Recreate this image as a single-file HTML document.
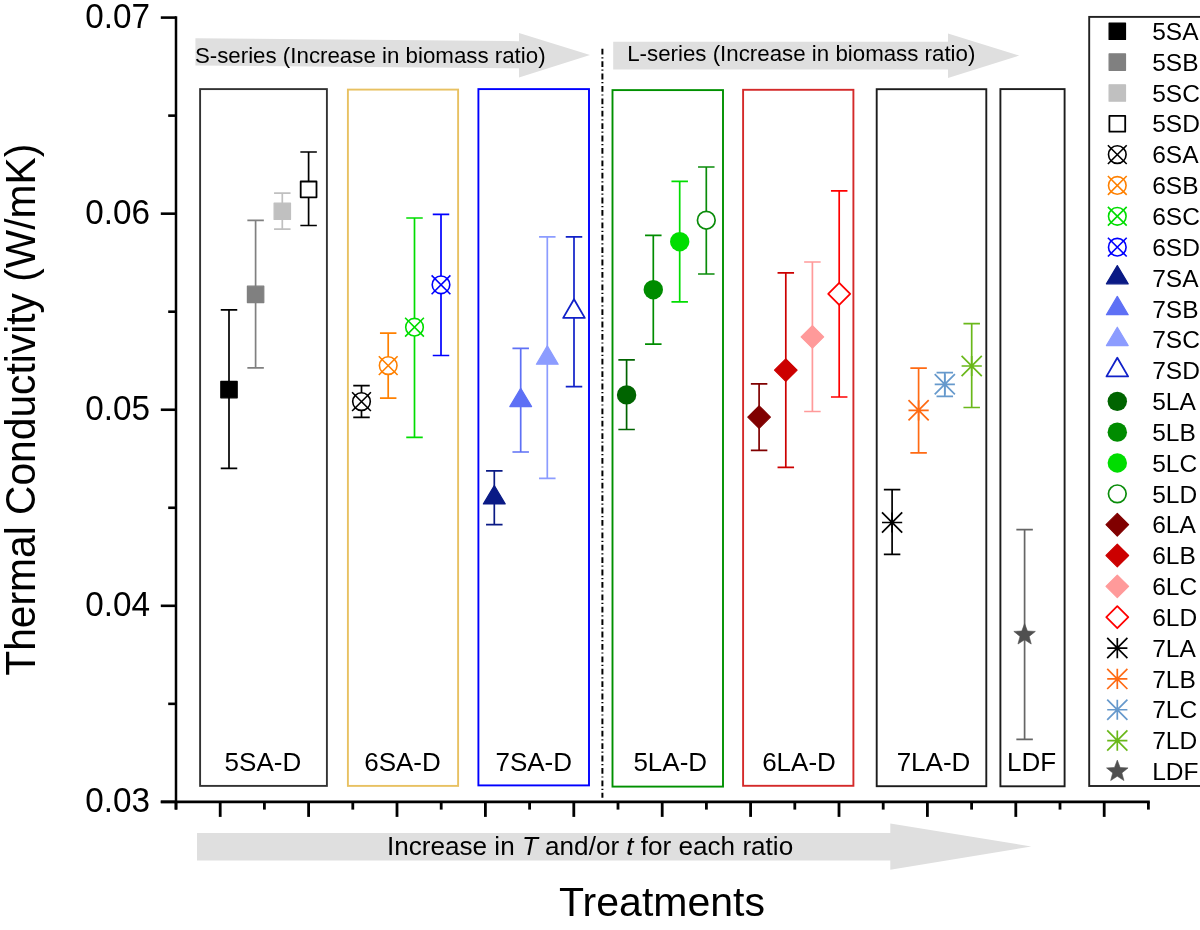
<!DOCTYPE html>
<html><head><meta charset="utf-8"><style>
html,body{margin:0;padding:0;background:#fff;width:1200px;height:930px;overflow:hidden}
svg{display:block;will-change:transform}
text{font-family:"Liberation Sans",sans-serif}
</style></head><body>
<svg width="1200" height="930" viewBox="0 0 1200 930">
<rect width="1200" height="930" fill="#fff"/>
<polygon points="195.4,38.3 519,41.2 519,33 590,55.1 519,77.5 519,68.3 195.4,65.6" fill="#dfdfdf"/>
<polygon points="613.2,41.8 948,41.8 948,33.4 1019.2,55.6 948,78 948,69.4 613.2,69.4" fill="#dfdfdf"/>
<polygon points="197,833 890.3,833 890.3,823.5 1031.3,846.5 890.3,869.7 890.3,860.6 197,860.6" fill="#dfdfdf"/>
<text transform="translate(194.90,63.00) scale(1,1.0)" font-size="22.3" text-anchor="start" font-family="Liberation Sans, sans-serif" fill="#000" >S-series (Increase in biomass ratio)</text>
<text transform="translate(627.20,61.00) scale(1,1.0)" font-size="22.3" text-anchor="start" font-family="Liberation Sans, sans-serif" fill="#000" >L-series (Increase in biomass ratio)</text>
<text transform="translate(387.00,855.00) scale(1,1.0)" font-size="26.1" text-anchor="start" font-family="Liberation Sans, sans-serif" fill="#000" >Increase in <tspan font-style="italic">T</tspan> and/or <tspan font-style="italic">t</tspan> for each ratio</text>
<rect x="200.1" y="89.1" width="126.80" height="696.80" fill="none" stroke="#333333" stroke-width="1.9"/>
<text transform="translate(262.90,770.90) scale(1,1.0)" font-size="26" text-anchor="middle" font-family="Liberation Sans, sans-serif" fill="#000" >5SA-D</text>
<rect x="347.9" y="89.6" width="110.20" height="696.30" fill="none" stroke="#e8c162" stroke-width="1.9"/>
<text transform="translate(402.50,770.90) scale(1,1.0)" font-size="26" text-anchor="middle" font-family="Liberation Sans, sans-serif" fill="#000" >6SA-D</text>
<rect x="478.4" y="89.1" width="110.60" height="696.30" fill="none" stroke="#0000ff" stroke-width="1.9"/>
<text transform="translate(533.75,770.90) scale(1,1.0)" font-size="26" text-anchor="middle" font-family="Liberation Sans, sans-serif" fill="#000" >7SA-D</text>
<rect x="612.5" y="90.1" width="110.50" height="696.50" fill="none" stroke="#009000" stroke-width="1.9"/>
<text transform="translate(670.25,770.90) scale(1,1.0)" font-size="26" text-anchor="middle" font-family="Liberation Sans, sans-serif" fill="#000" >5LA-D</text>
<rect x="743.1" y="89.8" width="110.30" height="696.00" fill="none" stroke="#d42a2a" stroke-width="1.9"/>
<text transform="translate(799.00,770.90) scale(1,1.0)" font-size="26" text-anchor="middle" font-family="Liberation Sans, sans-serif" fill="#000" >6LA-D</text>
<rect x="876.7" y="89.2" width="109.60" height="697.00" fill="none" stroke="#1c1c1c" stroke-width="1.9"/>
<text transform="translate(933.50,770.90) scale(1,1.0)" font-size="26" text-anchor="middle" font-family="Liberation Sans, sans-serif" fill="#000" >7LA-D</text>
<rect x="1000.4" y="89.1" width="64.20" height="697.20" fill="none" stroke="#1c1c1c" stroke-width="1.9"/>
<text transform="translate(1031.60,770.90) scale(1,1.0)" font-size="26" text-anchor="middle" font-family="Liberation Sans, sans-serif" fill="#000" >LDF</text>
<line x1="602.4" y1="48.8" x2="602.4" y2="797.7" stroke="#000" stroke-width="2" stroke-dasharray="5.8 2.6 1.2 2.8"/>
<line x1="176" y1="16.3" x2="176" y2="809.6" stroke="#000" stroke-width="2.5"/>
<line x1="160.8" y1="801.9" x2="1149.8" y2="801.9" stroke="#000" stroke-width="2.6"/>
<line x1="160.8" y1="17.60" x2="176" y2="17.60" stroke="#000" stroke-width="2.6"/>
<line x1="168.2" y1="115.63" x2="176" y2="115.63" stroke="#000" stroke-width="2.6"/>
<line x1="160.8" y1="213.67" x2="176" y2="213.67" stroke="#000" stroke-width="2.6"/>
<line x1="168.2" y1="311.70" x2="176" y2="311.70" stroke="#000" stroke-width="2.6"/>
<line x1="160.8" y1="409.74" x2="176" y2="409.74" stroke="#000" stroke-width="2.6"/>
<line x1="168.2" y1="507.77" x2="176" y2="507.77" stroke="#000" stroke-width="2.6"/>
<line x1="160.8" y1="605.81" x2="176" y2="605.81" stroke="#000" stroke-width="2.6"/>
<line x1="168.2" y1="703.84" x2="176" y2="703.84" stroke="#000" stroke-width="2.6"/>
<line x1="160.8" y1="801.88" x2="176" y2="801.88" stroke="#000" stroke-width="2.6"/>
<text transform="translate(150.00,28.30) scale(1,1.04)" font-size="33.3" text-anchor="end" font-family="Liberation Sans, sans-serif" fill="#000" >0.07</text>
<text transform="translate(150.00,223.97) scale(1,1.04)" font-size="33.3" text-anchor="end" font-family="Liberation Sans, sans-serif" fill="#000" >0.06</text>
<text transform="translate(150.00,419.84) scale(1,1.04)" font-size="33.3" text-anchor="end" font-family="Liberation Sans, sans-serif" fill="#000" >0.05</text>
<text transform="translate(150.00,615.71) scale(1,1.04)" font-size="33.3" text-anchor="end" font-family="Liberation Sans, sans-serif" fill="#000" >0.04</text>
<text transform="translate(150.00,811.58) scale(1,1.04)" font-size="33.3" text-anchor="end" font-family="Liberation Sans, sans-serif" fill="#000" >0.03</text>
<line x1="176.00" y1="801.9" x2="176.00" y2="809.6" stroke="#000" stroke-width="2.8"/>
<line x1="220.20" y1="801.9" x2="220.20" y2="816.9" stroke="#000" stroke-width="2.8"/>
<line x1="264.40" y1="801.9" x2="264.40" y2="809.6" stroke="#000" stroke-width="2.8"/>
<line x1="308.60" y1="801.9" x2="308.60" y2="816.9" stroke="#000" stroke-width="2.8"/>
<line x1="352.80" y1="801.9" x2="352.80" y2="809.6" stroke="#000" stroke-width="2.8"/>
<line x1="397.00" y1="801.9" x2="397.00" y2="816.9" stroke="#000" stroke-width="2.8"/>
<line x1="441.20" y1="801.9" x2="441.20" y2="809.6" stroke="#000" stroke-width="2.8"/>
<line x1="485.40" y1="801.9" x2="485.40" y2="816.9" stroke="#000" stroke-width="2.8"/>
<line x1="529.60" y1="801.9" x2="529.60" y2="809.6" stroke="#000" stroke-width="2.8"/>
<line x1="573.80" y1="801.9" x2="573.80" y2="816.9" stroke="#000" stroke-width="2.8"/>
<line x1="618.00" y1="801.9" x2="618.00" y2="809.6" stroke="#000" stroke-width="2.8"/>
<line x1="662.20" y1="801.9" x2="662.20" y2="816.9" stroke="#000" stroke-width="2.8"/>
<line x1="706.40" y1="801.9" x2="706.40" y2="809.6" stroke="#000" stroke-width="2.8"/>
<line x1="750.60" y1="801.9" x2="750.60" y2="816.9" stroke="#000" stroke-width="2.8"/>
<line x1="794.80" y1="801.9" x2="794.80" y2="809.6" stroke="#000" stroke-width="2.8"/>
<line x1="839.00" y1="801.9" x2="839.00" y2="816.9" stroke="#000" stroke-width="2.8"/>
<line x1="883.20" y1="801.9" x2="883.20" y2="809.6" stroke="#000" stroke-width="2.8"/>
<line x1="927.40" y1="801.9" x2="927.40" y2="816.9" stroke="#000" stroke-width="2.8"/>
<line x1="971.60" y1="801.9" x2="971.60" y2="809.6" stroke="#000" stroke-width="2.8"/>
<line x1="1015.80" y1="801.9" x2="1015.80" y2="816.9" stroke="#000" stroke-width="2.8"/>
<line x1="1060.00" y1="801.9" x2="1060.00" y2="809.6" stroke="#000" stroke-width="2.8"/>
<line x1="1104.20" y1="801.9" x2="1104.20" y2="816.9" stroke="#000" stroke-width="2.8"/>
<line x1="1148.40" y1="801.9" x2="1148.40" y2="809.6" stroke="#000" stroke-width="2.8"/>
<text transform="translate(559.10,916.00) scale(1,1.0)" font-size="41" text-anchor="start" font-family="Liberation Sans, sans-serif" fill="#000" >Treatments</text>
<text transform="translate(35,675.7) rotate(-90) scale(1,1.025)" font-size="40.75" font-family="Liberation Sans, sans-serif" fill="#000">Thermal Conductivity (W/mK)</text>
<path d="M229.00,309.80V468.40M220.75,309.80H237.25M220.75,468.40H237.25" stroke="#000000" stroke-width="1.7" fill="none"/>
<rect x="220.80" y="381.40" width="16.40" height="16.40" fill="#000000" stroke="#000000" stroke-width="1.2" stroke-linejoin="round"/>
<path d="M255.60,220.30V367.90M247.35,220.30H263.85M247.35,367.90H263.85" stroke="#808080" stroke-width="1.7" fill="none"/>
<rect x="247.40" y="286.20" width="16.40" height="16.40" fill="#808080" stroke="#808080" stroke-width="1.2" stroke-linejoin="round"/>
<path d="M282.30,193.20V229.20M274.05,193.20H290.55M274.05,229.20H290.55" stroke="#c0c0c0" stroke-width="1.7" fill="none"/>
<rect x="274.10" y="203.10" width="16.40" height="16.40" fill="#c0c0c0" stroke="#c0c0c0" stroke-width="1.2" stroke-linejoin="round"/>
<path d="M308.60,152.00V225.50M300.35,152.00H316.85M300.35,225.50H316.85" stroke="#000000" stroke-width="1.7" fill="none"/>
<rect x="300.70" y="181.50" width="15.80" height="15.80" fill="#fff" stroke="#000000" stroke-width="1.8" stroke-linejoin="round"/>
<path d="M361.50,385.70V417.40M353.25,385.70H369.75M353.25,417.40H369.75" stroke="#000000" stroke-width="1.7" fill="none"/>
<circle cx="361.50" cy="401.60" r="8.8" fill="#fff" stroke="#000000" stroke-width="1.6"/><path d="M352.10,392.20L370.90,411.00M352.10,411.00L370.90,392.20" stroke="#000000" stroke-width="1.6"/>
<path d="M388.20,333.20V398.20M379.95,333.20H396.45M379.95,398.20H396.45" stroke="#ff8000" stroke-width="1.7" fill="none"/>
<circle cx="388.20" cy="365.60" r="8.8" fill="#fff" stroke="#ff8000" stroke-width="1.6"/><path d="M378.80,356.20L397.60,375.00M378.80,375.00L397.60,356.20" stroke="#ff8000" stroke-width="1.6"/>
<path d="M414.50,218.00V437.30M406.25,218.00H422.75M406.25,437.30H422.75" stroke="#00dd00" stroke-width="1.7" fill="none"/>
<circle cx="414.50" cy="327.20" r="8.8" fill="#fff" stroke="#00dd00" stroke-width="1.6"/><path d="M405.10,317.80L423.90,336.60M405.10,336.60L423.90,317.80" stroke="#00dd00" stroke-width="1.6"/>
<path d="M441.00,214.30V355.50M432.75,214.30H449.25M432.75,355.50H449.25" stroke="#0000ff" stroke-width="1.7" fill="none"/>
<circle cx="441.00" cy="284.80" r="8.8" fill="#fff" stroke="#0000ff" stroke-width="1.6"/><path d="M431.60,275.40L450.40,294.20M431.60,294.20L450.40,275.40" stroke="#0000ff" stroke-width="1.6"/>
<path d="M494.30,470.80V524.60M486.05,470.80H502.55M486.05,524.60H502.55" stroke="#0a1a85" stroke-width="1.7" fill="none"/>
<polygon points="494.30,485.60 505.20,503.90 483.40,503.90" fill="#0a1a85" stroke="#0a1a85" stroke-width="1.2" stroke-linejoin="round"/>
<path d="M520.70,348.30V452.00M512.45,348.30H528.95M512.45,452.00H528.95" stroke="#5e70f5" stroke-width="1.7" fill="none"/>
<polygon points="520.70,388.30 531.60,406.60 509.80,406.60" fill="#5e70f5" stroke="#5e70f5" stroke-width="1.2" stroke-linejoin="round"/>
<path d="M547.30,236.80V478.30M539.05,236.80H555.55M539.05,478.30H555.55" stroke="#8c9cff" stroke-width="1.7" fill="none"/>
<polygon points="547.30,345.90 558.20,364.20 536.40,364.20" fill="#8c9cff" stroke="#8c9cff" stroke-width="1.2" stroke-linejoin="round"/>
<path d="M574.00,236.80V386.60M565.75,236.80H582.25M565.75,386.60H582.25" stroke="#1020c8" stroke-width="1.7" fill="none"/>
<polygon points="574.00,299.30 584.80,317.90 563.20,317.90" fill="#fff" stroke="#1020c8" stroke-width="1.8" stroke-linejoin="round"/>
<path d="M626.60,359.90V429.50M618.35,359.90H634.85M618.35,429.50H634.85" stroke="#006400" stroke-width="1.7" fill="none"/>
<circle cx="626.60" cy="394.90" r="9.7" fill="#006400"/>
<path d="M653.30,235.40V344.10M645.05,235.40H661.55M645.05,344.10H661.55" stroke="#008c00" stroke-width="1.7" fill="none"/>
<circle cx="653.30" cy="289.70" r="9.7" fill="#008c00"/>
<path d="M679.70,181.40V301.80M671.45,181.40H687.95M671.45,301.80H687.95" stroke="#00dd00" stroke-width="1.7" fill="none"/>
<circle cx="679.70" cy="241.70" r="9.7" fill="#00dd00"/>
<path d="M706.30,167.00V274.00M698.05,167.00H714.55M698.05,274.00H714.55" stroke="#0a8c0a" stroke-width="1.7" fill="none"/>
<circle cx="706.30" cy="220.20" r="8.85" fill="#fff" stroke="#0a8c0a" stroke-width="1.7"/>
<path d="M759.10,383.80V450.30M750.85,383.80H767.35M750.85,450.30H767.35" stroke="#800000" stroke-width="1.7" fill="none"/>
<polygon points="759.10,405.80 770.40,417.10 759.10,428.40 747.80,417.10" fill="#800000" stroke="#800000" stroke-width="1.2" stroke-linejoin="round"/>
<path d="M785.80,272.90V467.40M777.55,272.90H794.05M777.55,467.40H794.05" stroke="#cc0000" stroke-width="1.7" fill="none"/>
<polygon points="785.80,358.80 797.10,370.10 785.80,381.40 774.50,370.10" fill="#cc0000" stroke="#cc0000" stroke-width="1.2" stroke-linejoin="round"/>
<path d="M812.40,262.00V411.50M804.15,262.00H820.65M804.15,411.50H820.65" stroke="#ff9a9a" stroke-width="1.7" fill="none"/>
<polygon points="812.40,325.60 823.70,336.90 812.40,348.20 801.10,336.90" fill="#ff9a9a" stroke="#ff9a9a" stroke-width="1.2" stroke-linejoin="round"/>
<path d="M839.20,190.90V397.00M830.95,190.90H847.45M830.95,397.00H847.45" stroke="#ff0000" stroke-width="1.7" fill="none"/>
<polygon points="839.20,282.90 850.20,293.90 839.20,304.90 828.20,293.90" fill="#fff" stroke="#ff0000" stroke-width="1.8" stroke-linejoin="round"/>
<path d="M892.10,489.70V554.40M883.85,489.70H900.35M883.85,554.40H900.35" stroke="#000000" stroke-width="1.7" fill="none"/>
<path d="M882.00,522.50H902.20M892.10,512.40V532.60M882.00,512.40L902.20,532.60M882.00,532.60L902.20,512.40" stroke="#000000" stroke-width="1.7" fill="none"/>
<path d="M918.60,368.10V452.80M910.35,368.10H926.85M910.35,452.80H926.85" stroke="#ff6a13" stroke-width="1.7" fill="none"/>
<path d="M908.50,410.30H928.70M918.60,400.20V420.40M908.50,400.20L928.70,420.40M908.50,420.40L928.70,400.20" stroke="#ff6a13" stroke-width="1.7" fill="none"/>
<path d="M944.80,372.70V396.30M936.55,372.70H953.05M936.55,396.30H953.05" stroke="#6699cc" stroke-width="1.7" fill="none"/>
<path d="M934.70,384.30H954.90M944.80,374.20V394.40M934.70,374.20L954.90,394.40M934.70,394.40L954.90,374.20" stroke="#6699cc" stroke-width="1.7" fill="none"/>
<path d="M971.70,323.60V407.50M963.45,323.60H979.95M963.45,407.50H979.95" stroke="#6ab81a" stroke-width="1.7" fill="none"/>
<path d="M961.60,366.00H981.80M971.70,355.90V376.10M961.60,355.90L981.80,376.10M961.60,376.10L981.80,355.90" stroke="#6ab81a" stroke-width="1.7" fill="none"/>
<path d="M1024.60,529.70V739.40M1016.35,529.70H1032.85M1016.35,739.40H1032.85" stroke="#666666" stroke-width="1.7" fill="none"/>
<polygon points="1024.60,623.60 1027.42,631.02 1035.35,631.41 1029.17,636.38 1031.24,644.04 1024.60,639.70 1017.96,644.04 1020.03,636.38 1013.85,631.41 1021.78,631.02" fill="#505050" stroke="#505050" stroke-width="0.6" stroke-linejoin="round"/>
<rect x="1089.2" y="16.9" width="130" height="769.1" fill="#fff" stroke="#222" stroke-width="1.9"/>
<rect x="1109.10" y="23.05" width="16.40" height="16.40" fill="#000000" stroke="#000000" stroke-width="1.2" stroke-linejoin="round"/>
<text transform="translate(1152.20,39.95) scale(1,1.0)" font-size="24.5" text-anchor="start" font-family="Liberation Sans, sans-serif" fill="#000" >5SA</text>
<rect x="1109.10" y="53.89" width="16.40" height="16.40" fill="#808080" stroke="#808080" stroke-width="1.2" stroke-linejoin="round"/>
<text transform="translate(1152.20,70.79) scale(1,1.0)" font-size="24.5" text-anchor="start" font-family="Liberation Sans, sans-serif" fill="#000" >5SB</text>
<rect x="1109.10" y="84.73" width="16.40" height="16.40" fill="#c0c0c0" stroke="#c0c0c0" stroke-width="1.2" stroke-linejoin="round"/>
<text transform="translate(1152.20,101.63) scale(1,1.0)" font-size="24.5" text-anchor="start" font-family="Liberation Sans, sans-serif" fill="#000" >5SC</text>
<rect x="1109.40" y="115.87" width="15.80" height="15.80" fill="#fff" stroke="#000000" stroke-width="1.8" stroke-linejoin="round"/>
<text transform="translate(1152.20,132.47) scale(1,1.0)" font-size="24.5" text-anchor="start" font-family="Liberation Sans, sans-serif" fill="#000" >5SD</text>
<circle cx="1117.30" cy="154.61" r="8.8" fill="#fff" stroke="#000000" stroke-width="1.6"/><path d="M1107.90,145.21L1126.70,164.01M1107.90,164.01L1126.70,145.21" stroke="#000000" stroke-width="1.6"/>
<text transform="translate(1152.20,163.31) scale(1,1.0)" font-size="24.5" text-anchor="start" font-family="Liberation Sans, sans-serif" fill="#000" >6SA</text>
<circle cx="1117.30" cy="185.45" r="8.8" fill="#fff" stroke="#ff8000" stroke-width="1.6"/><path d="M1107.90,176.05L1126.70,194.85M1107.90,194.85L1126.70,176.05" stroke="#ff8000" stroke-width="1.6"/>
<text transform="translate(1152.20,194.15) scale(1,1.0)" font-size="24.5" text-anchor="start" font-family="Liberation Sans, sans-serif" fill="#000" >6SB</text>
<circle cx="1117.30" cy="216.29" r="8.8" fill="#fff" stroke="#00dd00" stroke-width="1.6"/><path d="M1107.90,206.89L1126.70,225.69M1107.90,225.69L1126.70,206.89" stroke="#00dd00" stroke-width="1.6"/>
<text transform="translate(1152.20,224.99) scale(1,1.0)" font-size="24.5" text-anchor="start" font-family="Liberation Sans, sans-serif" fill="#000" >6SC</text>
<circle cx="1117.30" cy="247.13" r="8.8" fill="#fff" stroke="#0000ff" stroke-width="1.6"/><path d="M1107.90,237.73L1126.70,256.53M1107.90,256.53L1126.70,237.73" stroke="#0000ff" stroke-width="1.6"/>
<text transform="translate(1152.20,255.83) scale(1,1.0)" font-size="24.5" text-anchor="start" font-family="Liberation Sans, sans-serif" fill="#000" >6SD</text>
<polygon points="1117.30,265.57 1128.20,283.87 1106.40,283.87" fill="#0a1a85" stroke="#0a1a85" stroke-width="1.2" stroke-linejoin="round"/>
<text transform="translate(1152.20,286.67) scale(1,1.0)" font-size="24.5" text-anchor="start" font-family="Liberation Sans, sans-serif" fill="#000" >7SA</text>
<polygon points="1117.30,296.41 1128.20,314.71 1106.40,314.71" fill="#5e70f5" stroke="#5e70f5" stroke-width="1.2" stroke-linejoin="round"/>
<text transform="translate(1152.20,317.51) scale(1,1.0)" font-size="24.5" text-anchor="start" font-family="Liberation Sans, sans-serif" fill="#000" >7SB</text>
<polygon points="1117.30,327.25 1128.20,345.55 1106.40,345.55" fill="#8c9cff" stroke="#8c9cff" stroke-width="1.2" stroke-linejoin="round"/>
<text transform="translate(1152.20,348.35) scale(1,1.0)" font-size="24.5" text-anchor="start" font-family="Liberation Sans, sans-serif" fill="#000" >7SC</text>
<polygon points="1117.30,357.79 1128.10,376.39 1106.50,376.39" fill="#fff" stroke="#1020c8" stroke-width="1.8" stroke-linejoin="round"/>
<text transform="translate(1152.20,379.19) scale(1,1.0)" font-size="24.5" text-anchor="start" font-family="Liberation Sans, sans-serif" fill="#000" >7SD</text>
<circle cx="1117.30" cy="401.33" r="9.7" fill="#006400"/>
<text transform="translate(1152.20,410.03) scale(1,1.0)" font-size="24.5" text-anchor="start" font-family="Liberation Sans, sans-serif" fill="#000" >5LA</text>
<circle cx="1117.30" cy="432.17" r="9.7" fill="#008c00"/>
<text transform="translate(1152.20,440.87) scale(1,1.0)" font-size="24.5" text-anchor="start" font-family="Liberation Sans, sans-serif" fill="#000" >5LB</text>
<circle cx="1117.30" cy="463.01" r="9.7" fill="#00dd00"/>
<text transform="translate(1152.20,471.71) scale(1,1.0)" font-size="24.5" text-anchor="start" font-family="Liberation Sans, sans-serif" fill="#000" >5LC</text>
<circle cx="1117.30" cy="493.85" r="8.85" fill="#fff" stroke="#0a8c0a" stroke-width="1.7"/>
<text transform="translate(1152.20,502.55) scale(1,1.0)" font-size="24.5" text-anchor="start" font-family="Liberation Sans, sans-serif" fill="#000" >5LD</text>
<polygon points="1117.30,513.39 1128.60,524.69 1117.30,535.99 1106.00,524.69" fill="#800000" stroke="#800000" stroke-width="1.2" stroke-linejoin="round"/>
<text transform="translate(1152.20,533.39) scale(1,1.0)" font-size="24.5" text-anchor="start" font-family="Liberation Sans, sans-serif" fill="#000" >6LA</text>
<polygon points="1117.30,544.23 1128.60,555.53 1117.30,566.83 1106.00,555.53" fill="#cc0000" stroke="#cc0000" stroke-width="1.2" stroke-linejoin="round"/>
<text transform="translate(1152.20,564.23) scale(1,1.0)" font-size="24.5" text-anchor="start" font-family="Liberation Sans, sans-serif" fill="#000" >6LB</text>
<polygon points="1117.30,575.07 1128.60,586.37 1117.30,597.67 1106.00,586.37" fill="#ff9a9a" stroke="#ff9a9a" stroke-width="1.2" stroke-linejoin="round"/>
<text transform="translate(1152.20,595.07) scale(1,1.0)" font-size="24.5" text-anchor="start" font-family="Liberation Sans, sans-serif" fill="#000" >6LC</text>
<polygon points="1117.30,606.21 1128.30,617.21 1117.30,628.21 1106.30,617.21" fill="#fff" stroke="#ff0000" stroke-width="1.8" stroke-linejoin="round"/>
<text transform="translate(1152.20,625.91) scale(1,1.0)" font-size="24.5" text-anchor="start" font-family="Liberation Sans, sans-serif" fill="#000" >6LD</text>
<path d="M1107.20,648.05H1127.40M1117.30,637.95V658.15M1107.20,637.95L1127.40,658.15M1107.20,658.15L1127.40,637.95" stroke="#000000" stroke-width="1.7" fill="none"/>
<text transform="translate(1152.20,656.75) scale(1,1.0)" font-size="24.5" text-anchor="start" font-family="Liberation Sans, sans-serif" fill="#000" >7LA</text>
<path d="M1107.20,678.89H1127.40M1117.30,668.79V688.99M1107.20,668.79L1127.40,688.99M1107.20,688.99L1127.40,668.79" stroke="#ff6a13" stroke-width="1.7" fill="none"/>
<text transform="translate(1152.20,687.59) scale(1,1.0)" font-size="24.5" text-anchor="start" font-family="Liberation Sans, sans-serif" fill="#000" >7LB</text>
<path d="M1107.20,709.73H1127.40M1117.30,699.63V719.83M1107.20,699.63L1127.40,719.83M1107.20,719.83L1127.40,699.63" stroke="#6699cc" stroke-width="1.7" fill="none"/>
<text transform="translate(1152.20,718.43) scale(1,1.0)" font-size="24.5" text-anchor="start" font-family="Liberation Sans, sans-serif" fill="#000" >7LC</text>
<path d="M1107.20,740.57H1127.40M1117.30,730.47V750.67M1107.20,730.47L1127.40,750.67M1107.20,750.67L1127.40,730.47" stroke="#6ab81a" stroke-width="1.7" fill="none"/>
<text transform="translate(1152.20,749.27) scale(1,1.0)" font-size="24.5" text-anchor="start" font-family="Liberation Sans, sans-serif" fill="#000" >7LD</text>
<polygon points="1117.30,760.11 1120.12,767.53 1128.05,767.92 1121.87,772.89 1123.94,780.55 1117.30,776.21 1110.66,780.55 1112.73,772.89 1106.55,767.92 1114.48,767.53" fill="#505050" stroke="#505050" stroke-width="0.6" stroke-linejoin="round"/>
<text transform="translate(1152.20,780.11) scale(1,1.0)" font-size="24.5" text-anchor="start" font-family="Liberation Sans, sans-serif" fill="#000" >LDF</text>
</svg></body></html>
